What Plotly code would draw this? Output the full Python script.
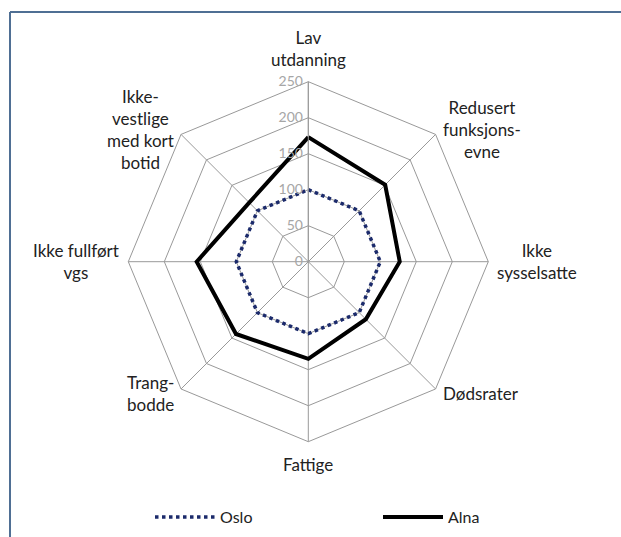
import math
import plotly.graph_objects as go

categories = ["Lav<br>utdanning", "Redusert<br>funksjons-<br>evne", "Ikke<br>sysselsatte",
              "Dødsrater", "Fattige", "Trang-<br>bodde", "Ikke fullført<br>vgs",
              "Ikke-<br>vestlige<br>med kort<br>botid"]
oslo = [100, 100, 100, 100, 100, 100, 100, 100]
alna = [173, 151, 127, 113, 135, 142, 155, 116]
radial_ticks = [0, 50, 100, 150, 200, 250]

W, H = 621, 537
cx, cy, R = 308.3, 261.7, 180.0

fig = go.Figure()
fig.add_trace(go.Scatterpolar(
    r=oslo + oslo[:1], theta=categories + categories[:1], mode="lines", name="Oslo",
    line=dict(color="#1b2a6b", width=3.5, dash="dot")))
fig.add_trace(go.Scatterpolar(
    r=alna + alna[:1], theta=categories + categories[:1], mode="lines", name="Alna",
    line=dict(color="#000000", width=4)))

# category labels placed just outside each spoke of the polar grid
annotations = []
n = len(categories)
for i, label in enumerate(categories):
    ang = math.radians(90 - 360 * i / n)
    c, s = math.cos(ang), math.sin(ang)
    gap = 10 if abs(c) < 0.1 else 7
    px = cx + (R + gap) * c
    py = cy - (R + gap) * s
    if c > 0.1:
        xa = "left"
    elif c < -0.1:
        xa = "right"
    else:
        xa = "center"
    if abs(c) < 0.1:
        ya = "bottom" if s > 0 else "top"
    else:
        ya = "middle"
    annotations.append(dict(x=px / W, y=1 - py / H, xref="paper", yref="paper", text=label,
                            showarrow=False, xanchor=xa, yanchor=ya, align="center",
                            font=dict(size=17, color="#222")))

fig.update_layout(
    width=W, height=H,
    margin=dict(l=0, r=0, t=0, b=0, autoexpand=False),
    paper_bgcolor="white",
    font=dict(family="Lato, Open Sans, sans-serif", size=16, color="#222"),
    polar=dict(
        domain=dict(x=[(cx - R) / W, (cx + R) / W], y=[1 - (cy + R) / H, 1 - (cy - R) / H]),
        bgcolor="white",
        gridshape="linear",
        angularaxis=dict(direction="clockwise", rotation=90, showline=True,
                         linecolor="#999999", linewidth=1, gridcolor="#999999", gridwidth=1,
                         ticks="", showticklabels=False),
        radialaxis=dict(range=[0, 250], tickvals=radial_ticks, angle=90, tickangle=90,
                        side="counterclockwise", showline=True, linecolor="#999999",
                        gridcolor="#999999", gridwidth=1, ticks="",
                        tickfont=dict(size=14, color="#a6a6a6")),
    ),
    annotations=annotations,
    showlegend=True,
    legend=dict(orientation="h", x=150 / W, y=1 - 517 / H, xanchor="left", yanchor="middle",
                entrywidth=153, entrywidthmode="pixels", itemwidth=60,
                font=dict(size=16, color="#222"), bgcolor="rgba(0,0,0,0)"),
    shapes=[
        dict(type="line", xref="paper", yref="paper", x0=10 / W, x1=1.0, y0=1 - 12 / H, y1=1 - 12 / H,
             line=dict(color="#4f6f94", width=2)),
        dict(type="line", xref="paper", yref="paper", x0=10 / W, x1=10 / W, y0=1 - 12 / H, y1=0,
             line=dict(color="#4f6f94", width=2)),
    ],
)

fig.write_html("out.html", config={"displayModeBar": False},
               post_script="document.body.style.margin='0';")
